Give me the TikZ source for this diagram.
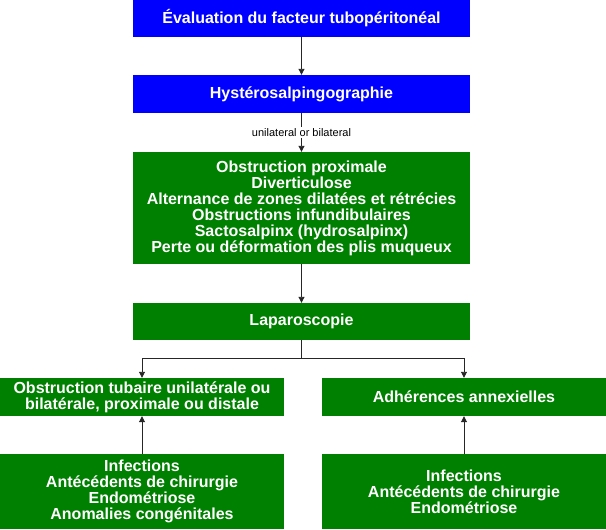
\documentclass[tikz,border=0pt]{standalone}
\usepackage{fontspec}
\setmainfont{Liberation Sans}
\usepackage{xcolor}
\usepackage{tikz}
\usetikzlibrary{positioning, calc, arrows.meta}

\definecolor{boxblue}{RGB}{0,0,255}
\definecolor{boxgreen}{RGB}{0,128,0}

\tikzset{
    box/.style={rectangle, inner sep=0pt, align=center, text=white,
        font=\fontsize{16}{16}\selectfont\bfseries},
    bluebox/.style={box, fill=boxblue},
    greenbox/.style={box, fill=boxgreen},
    arr/.style={-{Triangle[length=6pt,width=6pt]}, line width=0.9pt, draw=black!85}
}

\begin{document}
\begin{tikzpicture}[x=1pt,y=-1pt]

    \useasboundingbox (0,0) rectangle (606,530);

    % --- Central column ---
    \node[bluebox, minimum width=337, minimum height=37] (eval) at (301.5,18.5)
        {Évaluation du facteur tubopéritonéal};
    \node[bluebox, minimum width=337, minimum height=38] (hsg) at (301.5,94)
        {Hystérosalpingographie};
    \node[greenbox, minimum width=337, minimum height=112] (obs) at (301.5,208)
        {Obstruction proximale\\Diverticulose\\Alternance de zones dilatées et rétrécies\\
         Obstructions infundibulaires\\Sactosalpinx (hydrosalpinx)\\Perte ou déformation des plis muqueux};
    \node[greenbox, minimum width=337, minimum height=37] (lap) at (301.5,321.5)
        {Laparoscopie};

    % --- Left branch ---
    \node[greenbox, minimum width=284, minimum height=38] (tube) at (142,397)
        {Obstruction tubaire unilatérale ou\\bilatérale, proximale ou distale};
    \node[greenbox, minimum width=284, minimum height=75] (causeL) at (142,491.5)
        {Infections\\Antécédents de chirurgie\\Endométriose\\Anomalies congénitales};

    % --- Right branch ---
    \node[greenbox, minimum width=284, minimum height=38] (adh) at (464,397)
        {Adhérences annexielles};
    \node[greenbox, minimum width=284, minimum height=75] (causeR) at (464,491.5)
        {Infections\\Antécédents de chirurgie\\Endométriose};

    % --- Connectors ---
    \draw[arr] (eval) -- (hsg);
    \draw[arr] (hsg) -- node[fill=white, inner sep=1pt, font=\fontsize{11}{12}\selectfont] {unilateral or bilateral} (obs);
    \draw[arr] (obs) -- (lap);

    \coordinate (split) at ($(lap.south)+(0,18)$);
    \draw[line width=0.9pt, draw=black!85] (lap.south) -- (split);
    \draw[arr] (split) -| (tube.north);
    \draw[arr] (split) -| (adh.north);

    \draw[arr] (causeL) -- (tube);
    \draw[arr] (causeR) -- (adh);

\end{tikzpicture}
\end{document}
